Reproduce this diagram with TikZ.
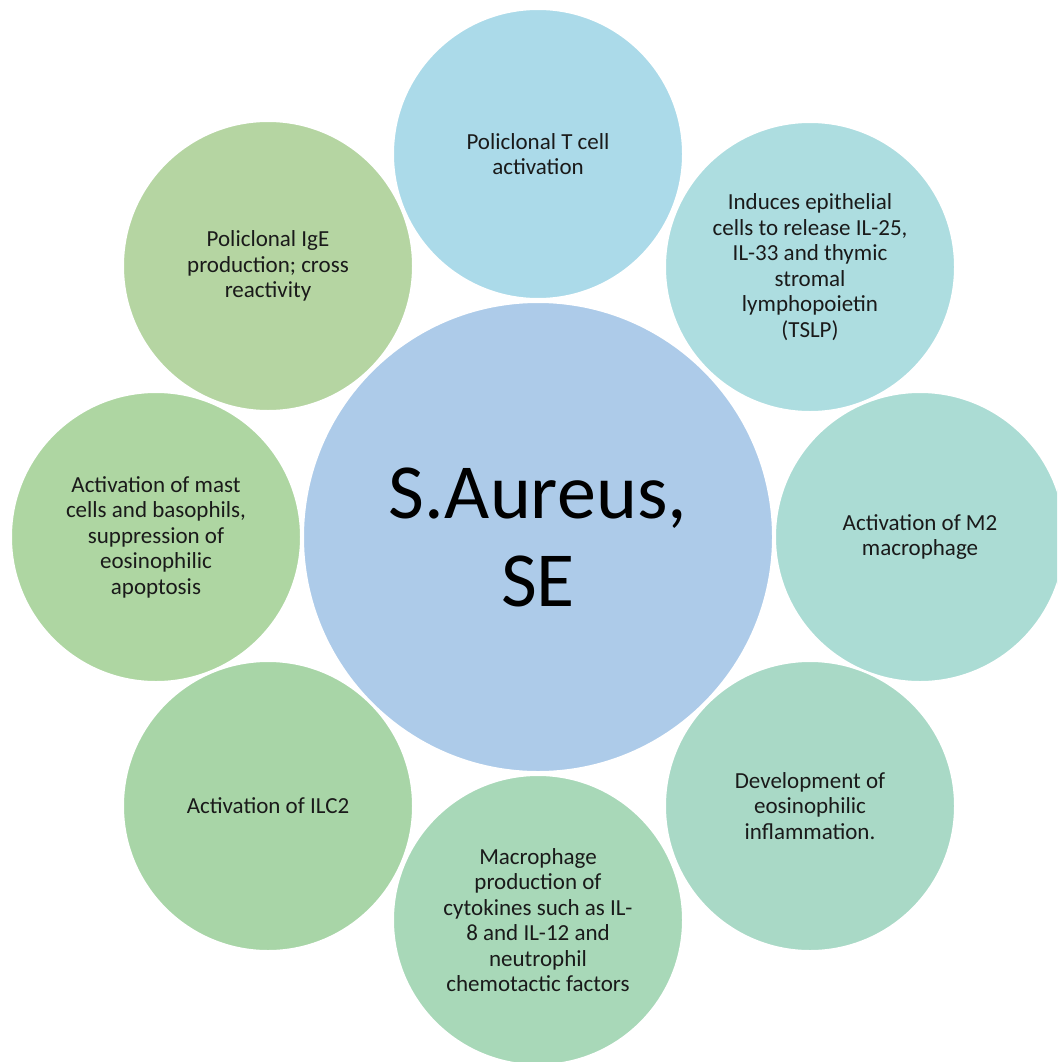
\documentclass[tikz,border=0pt]{standalone}
\usepackage{fontspec}
\setmainfont{Carlito}
\definecolor{cC}{HTML}{ADCBE9}
\definecolor{c1}{HTML}{ABDAE9}
\definecolor{c2}{HTML}{ADDDE0}
\definecolor{c3}{HTML}{ABDCD4}
\definecolor{c4}{HTML}{A9D9C6}
\definecolor{c5}{HTML}{A8D8B8}
\definecolor{c6}{HTML}{A8D5A7}
\definecolor{c7}{HTML}{AED6A2}
\definecolor{c8}{HTML}{B5D5A2}
\definecolor{txt}{HTML}{1A1A1A}
\tikzset{
  bubble/.style={circle, draw=white, line width=2pt, minimum size=290pt, inner sep=0pt,
    text=txt, align=center, font=\fontsize{23}{25.5}\selectfont},
  hub/.style={circle, draw=white, line width=2pt, minimum size=470pt, inner sep=0pt,
    fill=cC, text=black, align=center, font=\fontsize{78}{88}\selectfont}
}
\begin{document}
\begin{tikzpicture}[x=1pt,y=-1pt]
\useasboundingbox (0,0) rectangle (1057,1062);
\clip (0,0) rectangle (1057,1062);
\node[hub] (hub) at (538,537) {S.Aureus,\\SE};
\node[bubble, fill=c1] (n1) at (538,154) {Policlonal T cell\\activation};
\node[bubble, fill=c2] (n2) at (810,267) {Induces epithelial\\cells to release IL-25,\\IL-33 and thymic\\stromal\\lymphopoietin\\(TSLP)};
\node[bubble, fill=c3] (n3) at (920,537) {Activation of M2\\macrophage};
\node[bubble, fill=c4] (n4) at (810,806) {Development of\\eosinophilic\\inflammation.};
\node[bubble, fill=c5] (n5) at (538,920) {Macrophage\\production of\\cytokines such as IL-\\8 and IL-12 and\\neutrophil\\chemotactic factors};
\node[bubble, fill=c6] (n6) at (268,806) {Activation of ILC2};
\node[bubble, fill=c7] (n7) at (156,537) {Activation of mast\\cells and basophils,\\suppression of\\eosinophilic\\apoptosis};
\node[bubble, fill=c8] (n8) at (268,266) {Policlonal IgE\\production; cross\\reactivity};
\end{tikzpicture}
\end{document}
